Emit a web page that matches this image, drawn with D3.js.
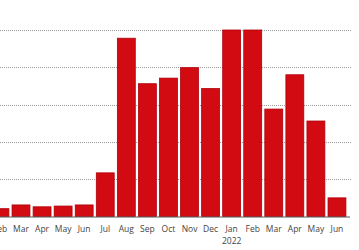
<!DOCTYPE html>
<meta charset="utf-8">
<style>
    body { margin: 0; background: #fff; }
    .grid line { stroke: #9a9a9a; stroke-dasharray: 1,1; stroke-width: 1px; }
    .bars rect { fill: #d20a12; stroke: #b0000a; stroke-width: 0.8px; }
    .labels text { font-family: "Open Sans", sans-serif; font-size: 8.5px; fill: #444; }
</style>
<svg width="359" height="250"></svg>
<script src="https://cdn.jsdelivr.net/npm/d3@7"></script>
<script>

    var months = ["Feb", "Mar", "Apr", "May", "Jun", "Jul", "Aug", "Sep", "Oct", "Nov", "Dec",
                  "Jan", "Feb", "Mar", "Apr", "May", "Jun"];
    var values = [4.2, 6.2, 5.2, 5.6, 6.2, 23.4, 95.6, 71.2, 74.2, 79.8, 68.6,
                  100, 100, 57.6, 76, 51.2, 10];
    var gridValues = [20, 40, 60, 80, 100];
    var yearLabels = [{ index: 11, text: "2022" }];

    var svg = d3.select("svg");

    var x = d3.scaleBand()
            .domain(d3.range(months.length))
            .range([-10.6, 347.5])
            .paddingInner(0.15)
            .paddingOuter(0.075);

    var y = d3.scaleLinear()
            .domain([0, 100])
            .range([216.5, 30]);

    svg.append("g")
            .attr("class", "grid")
            .selectAll("line")
            .data(gridValues)
            .enter().append("line")
            .attr("x1", 0)
            .attr("x2", 351)
            .attr("y1", function(d) { return Math.round(y(d)) + 0.5; })
            .attr("y2", function(d) { return Math.round(y(d)) + 0.5; });

    svg.append("g")
            .attr("class", "bars")
            .selectAll("rect")
            .data(values)
            .enter().append("rect")
            .attr("x", function(d, i) { return x(i); })
            .attr("width", x.bandwidth())
            .attr("y", function(d) { return y(d); })
            .attr("height", function(d) { return y(0) - y(d); });

    // baseline
    svg.append("line")
            .attr("x1", 0)
            .attr("x2", 350)
            .attr("y1", y(0) + 0.5)
            .attr("y2", y(0) + 0.5)
            .attr("stroke", "#555")
            .attr("stroke-width", 1);

    var labels = svg.append("g").attr("class", "labels");

    labels.selectAll("text.month")
            .data(months)
            .enter().append("text")
            .attr("class", "month")
            .attr("x", function(d, i) { return x(i) + x.bandwidth() / 2; })
            .attr("y", 232)
            .attr("text-anchor", "middle")
            .text(function(d) { return d; });

    labels.selectAll("text.year")
            .data(yearLabels)
            .enter().append("text")
            .attr("class", "year")
            .attr("x", function(d) { return x(d.index) + x.bandwidth() / 2; })
            .attr("y", 243.5)
            .attr("text-anchor", "middle")
            .text(function(d) { return d.text; });

</script>
